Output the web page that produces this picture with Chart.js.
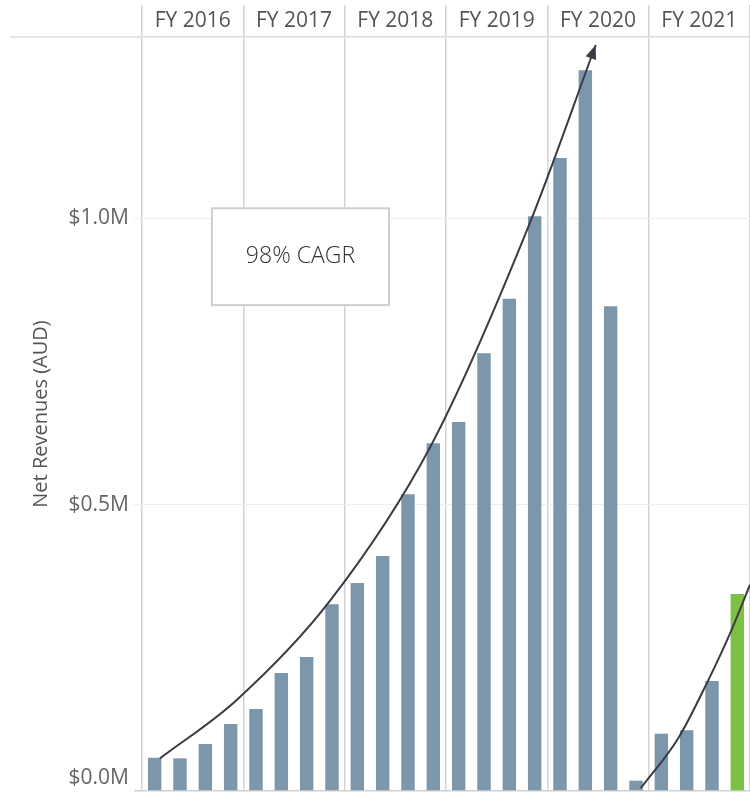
<!DOCTYPE html>
<html>
<head>
  <title>Net Revenues by Quarter</title>
  <script src="https://cdn.jsdelivr.net/npm/chart.js"></script>
  <style>
    body { margin: 0; background: #fff; }
    #wrap { width: 750px; height: 794px; }
  </style>
</head>
<body>
  <div id="wrap"><canvas id="revChart"></canvas></div>

  <script>
    // fiscal years and quarterly revenues (millions AUD)
    const fyLabels = ['FY 2016', 'FY 2017', 'FY 2018', 'FY 2019', 'FY 2020', 'FY 2021'];
    const quarterNames = ['Q1', 'Q2', 'Q3', 'Q4'];
    const revenues = [
      0.058, 0.057, 0.082, 0.117,
      0.143, 0.206, 0.234, 0.326,
      0.363, 0.410, 0.518, 0.607,
      0.644, 0.764, 0.859, 1.003,
      1.105, 1.258, 0.846, 0.018,
      0.100, 0.106, 0.192, 0.344
    ];
    const yTicks = [0, 0.5, 1.0];

    // trend curves (x = quarter index, y = $M)
    const trendMain = [
      { x: 0.21, y: 0.057 }, { x: 3.24, y: 0.159 }, { x: 6.94, y: 0.333 },
      { x: 10.92, y: 0.604 }, { x: 14.78, y: 0.988 }, { x: 17.41, y: 1.302 }
    ];
    const trendRecent = [
      { x: 19.19, y: 0.005 }, { x: 20.68, y: 0.093 }, { x: 21.86, y: 0.194 },
      { x: 22.73, y: 0.277 }, { x: 23.5, y: 0.36 }
    ];
    const cagrNote = { text: '98% CAGR', x1: 2.26, x2: 9.25, y1: 1.017, y2: 0.848 };

    const quarterLabels = [];
    fyLabels.forEach(fy => quarterNames.forEach(q => quarterLabels.push(fy + ' ' + q)));
    const barColors = revenues.map((v, i) => i === revenues.length - 1 ? '#7cc143' : '#7c96ab');

    // header rule, arrowhead and CAGR box
    const extras = {
      id: 'extras',
      afterDatasetsDraw(chart) {
        const ctx = chart.ctx;
        const area = chart.chartArea;
        ctx.save();
        ctx.strokeStyle = '#dcdcdc';
        ctx.lineWidth = 1.5;
        ctx.beginPath();
        ctx.moveTo(10, area.top);
        ctx.lineTo(area.left, area.top);
        ctx.stroke();

        // arrowhead at the end of main trend
        const pts = chart.getDatasetMeta(1).data;
        const a = pts[pts.length - 1], b = pts[pts.length - 2];
        const ang = Math.atan2(a.y - b.y, a.x - b.x);
        ctx.fillStyle = '#3b3b45';
        ctx.beginPath();
        ctx.moveTo(a.x, a.y);
        ctx.lineTo(a.x - 14 * Math.cos(ang) + 5.5 * Math.sin(ang), a.y - 14 * Math.sin(ang) - 5.5 * Math.cos(ang));
        ctx.lineTo(a.x - 14 * Math.cos(ang) - 5.5 * Math.sin(ang), a.y - 14 * Math.sin(ang) + 5.5 * Math.cos(ang));
        ctx.closePath();
        ctx.fill();

        // CAGR box
        const xs = chart.scales.xt, ys = chart.scales.y;
        const l = xs.getPixelForValue(cagrNote.x1), r = xs.getPixelForValue(cagrNote.x2);
        const t = ys.getPixelForValue(cagrNote.y1), btm = ys.getPixelForValue(cagrNote.y2);
        ctx.fillStyle = '#fff';
        ctx.fillRect(l, t, r - l, btm - t);
        ctx.strokeStyle = '#cfcfcf';
        ctx.lineWidth = 2;
        ctx.strokeRect(l, t, r - l, btm - t);
        ctx.fillStyle = '#333';
        ctx.font = '300 23px "Open Sans"';
        ctx.textAlign = 'center';
        ctx.textBaseline = 'middle';
        ctx.fillText(cagrNote.text, (l + r) / 2, (t + btm) / 2);
        ctx.restore();
      }
    };

    const ctx = document.getElementById('revChart').getContext('2d');
    new Chart(ctx, {
      data: {
        labels: quarterLabels,
        datasets: [
          { type: 'bar', data: revenues, backgroundColor: barColors, grouped: false,
            barPercentage: 0.53, categoryPercentage: 1, xAxisID: 'x', order: 2 },
          { type: 'line', data: trendMain, xAxisID: 'xt', borderColor: '#3b3b45', borderWidth: 2,
            pointRadius: 0, cubicInterpolationMode: 'monotone', order: 1 },
          { type: 'line', data: trendRecent, xAxisID: 'xt', borderColor: '#3b3b45', borderWidth: 2,
            pointRadius: 0, cubicInterpolationMode: 'monotone', order: 1 }
        ]
      },
      options: {
        responsive: true,
        maintainAspectRatio: false,
        animation: false,
        layout: { padding: { top: 0, right: 0, bottom: 3, left: 0 } },
        plugins: { legend: { display: false }, tooltip: { enabled: false } },
        scales: {
          x: { type: 'category', display: false, offset: true },
          xt: { type: 'linear', display: false, min: -0.5, max: 23.5 },
          fy: {
            type: 'category',
            labels: fyLabels,
            position: 'top',
            offset: true,
            grid: { offset: true, color: '#d3d3d3', lineWidth: 1.5, tickLength: 32 },
            border: { color: '#dcdcdc', width: 1.5 },
            ticks: { color: '#555', font: { family: 'Open Sans', size: 21 }, padding: -29, maxRotation: 0 },
            afterFit: s => { s.height = 37; }
          },
          y: {
            type: 'linear',
            min: 0,
            max: 1.316,
            ticks: {
              stepSize: 0.5,
              color: '#666',
              font: { family: 'Open Sans', size: 21 },
              padding: 5,
              // bottom label sits just above the baseline
              callback: v => v === 0 ? ['$0.0M', ''] : '$' + v.toFixed(1) + 'M'
            },
            afterBuildTicks: s => { s.ticks = yTicks.map(v => ({ value: v })); },
            grid: {
              color: c => c.tick && c.tick.value === 0 ? '#cfcfcf' : '#eeeeee',
              lineWidth: c => c.tick && c.tick.value === 0 ? 1.5 : 1,
              tickLength: 8
            },
            border: { display: false },
            title: {
              display: true,
              text: 'Net Revenues (AUD)',
              color: '#555',
              font: { family: 'Open Sans', size: 20 },
              padding: { top: 29, bottom: 0 }
            },
            afterFit: s => { s.width = 142; s.paddingTop = 0; s.paddingBottom = 0; }
          }
        }
      },
      plugins: [extras]
    });
  </script>
</body>
</html>
